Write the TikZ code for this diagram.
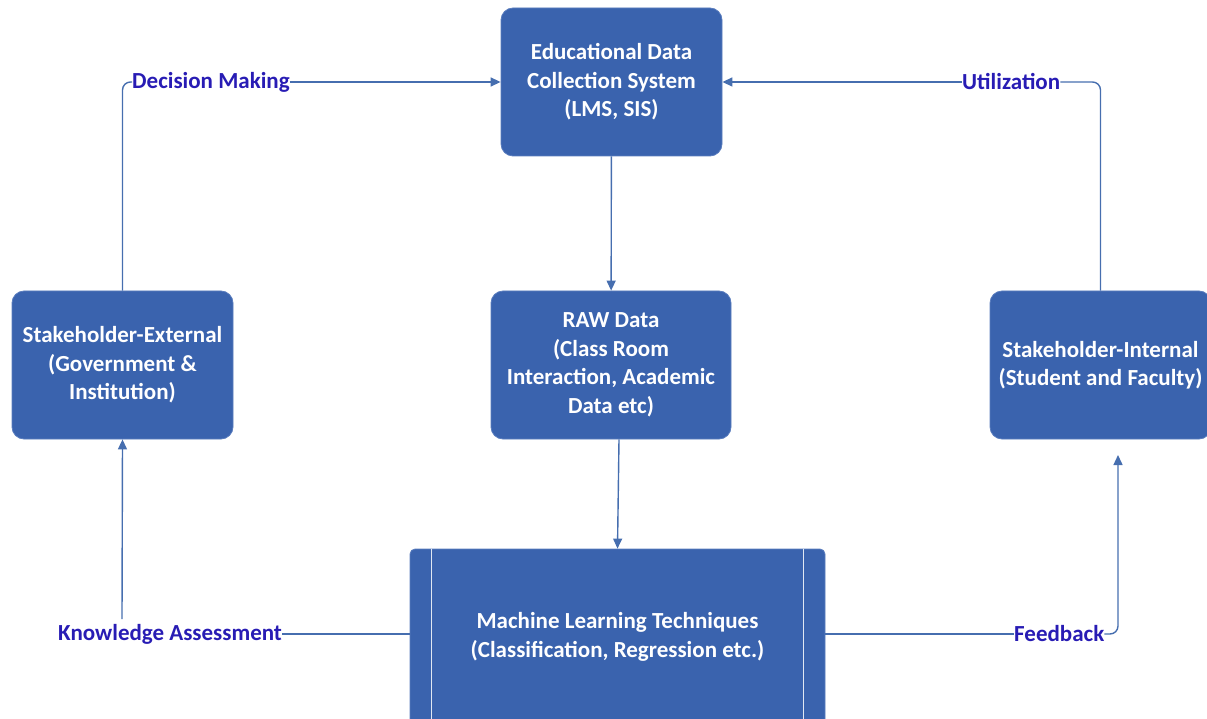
\documentclass[tikz,border=0pt]{standalone}
\usepackage{fontspec}
\setmainfont{Carlito}
\usetikzlibrary{arrows.meta}
\definecolor{boxfill}{RGB}{58,99,174}
\definecolor{boxedge}{RGB}{90,125,190}
\definecolor{lblcol}{RGB}{40,28,180}
\definecolor{linecol}{RGB}{70,110,175}
\tikzset{
  box/.style={draw=boxedge, line width=0.8pt, fill=boxfill, rounded corners=12pt, text=white,
    align=center, inner sep=0pt, font=\bfseries\fontsize{23}{28.5}\selectfont},
  lbl/.style={text=lblcol, inner sep=0pt, font=\bfseries\fontsize{23}{26}\selectfont},
  conn/.style={draw=linecol, line width=1.4pt},
  arr/.style={conn, -{Triangle[length=10pt,width=9pt]}},
}
\begin{document}
\begin{tikzpicture}[x=1pt,y=-1pt]
\useasboundingbox (0,0) rectangle (1207,719);
\node[box, minimum width=221pt, minimum height=148pt] (top) at (611.5,82) {Educational Data\\Collection System\\(LMS, SIS)};
\node[box, minimum width=240pt, minimum height=148pt] (raw) at (611,365) {RAW Data\\(Class Room\\Interaction, Academic\\Data etc)};
\node[box, minimum width=221pt, minimum height=148pt] (ext) at (122.5,365) {Stakeholder-External\\(Government \&\\Institution)};
\node[box, minimum width=221pt, minimum height=148pt] (int) at (1100.5,365) {Stakeholder-Internal\\(Student and Faculty)};
\node[box, rounded corners=5pt, minimum width=415pt, minimum height=176pt] (ml) at (617.5,637) {Machine Learning Techniques\\(Classification, Regression etc.)};
\draw[white!85!boxfill, line width=1.2pt] ([xshift=22pt]ml.north west) -- ([xshift=22pt]ml.south west);
\draw[white!85!boxfill, line width=1.2pt] ([xshift=-22pt]ml.north east) -- ([xshift=-22pt]ml.south east);

\node[lbl, anchor=west] (dm) at (132,82) {Decision Making};
\node[lbl, anchor=west] (ut) at (962,82) {Utilization};
\node[lbl, anchor=west] (ka) at (58,634) {Knowledge Assessment};
\node[lbl, anchor=west] (fb) at (1014,634) {Feedback};

\coordinate (kaup) at (122,619);
\coordinate (fbend) at (1118,455);

\draw[arr] (top) -- (raw);
\draw[arr] ([xshift=8pt]raw.south) -- (ml.north);
\draw[conn, rounded corners=8pt] (ext.north) |- (dm.west);
\draw[arr] (dm.east) -- (top.west);
\draw[conn, rounded corners=8pt] (int.north) |- (ut.east);
\draw[arr] (ut.west) -- (top.east);
\draw[conn] (ml.west |- ka.east) -- (ka.east);
\draw[arr] (kaup) -- (ext.south);
\draw[conn] (ml.east |- fb.west) -- (fb.west);
\draw[arr, rounded corners=8pt] (fb.east) -| (fbend);
\end{tikzpicture}
\end{document}
